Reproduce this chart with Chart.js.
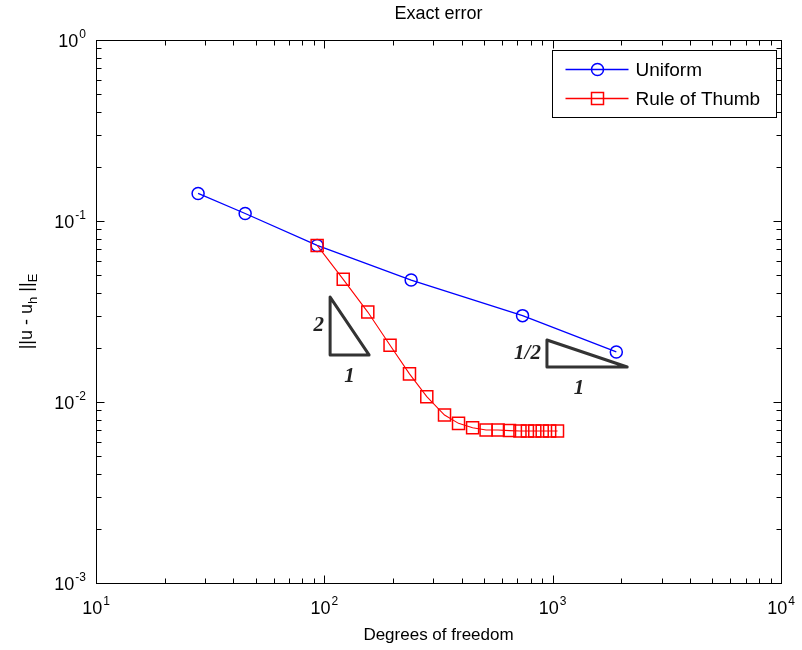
<!DOCTYPE html>
<html>
<head>
<meta charset="utf-8">
<title>Exact error</title>
<script src="https://cdn.jsdelivr.net/npm/chart.js@4/dist/chart.umd.min.js"></script>
<style>
  body { margin: 0; background: #fff; }
  canvas { display: block; }
</style>
</head>
<body>
<canvas id="errChart" width="802" height="650"></canvas>
<script>
// Energy-norm error against degrees of freedom
const uniformDofs = [28, 45, 93, 240, 738, 1900];
const uniformErr = [0.142, 0.110, 0.0733, 0.0472, 0.0300, 0.0189];

const thumbDofs = [93, 121, 155, 194, 236, 281, 336, 387, 446, 511, 577, 647, 719, 775, 835, 900, 970, 1050];
const thumbErr = [0.0733, 0.0476, 0.0314, 0.0206, 0.0143, 0.0107, 0.00847, 0.00762, 0.00721, 0.00700,
                  0.00700, 0.00695, 0.00692, 0.00692, 0.00692, 0.00692, 0.00692, 0.00692];

// decade exponents for the log axes
const xExps = [1, 2, 3, 4];
const yExps = [0, -1, -2, -3];

// slope triangles: x range, y range (data units) and the two side labels
const slopeTriangles = [
    { x0: 106, x1: 157, yLow: 0.0182, yHigh: 0.038, rise: '2', run: '1', runAt: 0.5 },
    { x0: 944, x1: 2120, yLow: 0.0156, yHigh: 0.022, rise: '1/2', run: '1', runAt: 0.4 }
];

const FONT = '"Liberation Sans", Arial, sans-serif';

function toPoints(xs, ys) {
    return xs.map((x, i) => ({ x: x, y: ys[i] }));
}

function drawPower(ctx, exp, x, y, align) {
    ctx.font = '18px ' + FONT;
    const wBase = ctx.measureText('10').width;
    ctx.font = '12px ' + FONT;
    const sup = String(exp);
    const wSup = ctx.measureText(sup).width;
    const total = wBase + wSup + 1;
    const start = align === 'center' ? x - total / 2 : x - total;
    ctx.textAlign = 'left';
    ctx.textBaseline = 'alphabetic';
    ctx.font = '18px ' + FONT;
    ctx.fillText('10', start, y);
    ctx.font = '12px ' + FONT;
    ctx.fillText(sup, start + wBase + 1, y - 9);
}

const axesPlugin = {
    id: 'matlabAxes',
    afterDraw(chart) {
        const ctx = chart.ctx;
        const area = chart.chartArea;
        const xs = chart.scales.x;
        const ys = chart.scales.y;
        ctx.save();
        ctx.strokeStyle = '#000';
        ctx.fillStyle = '#000';
        ctx.lineWidth = 1;

        // box
        const L = Math.round(area.left) + 0.5, R = Math.round(area.right) + 0.5;
        const T = Math.round(area.top) + 0.5, B = Math.round(area.bottom) + 0.5;
        ctx.strokeRect(L, T, R - L, B - T);

        // inward ticks on all four sides
        ctx.beginPath();
        for (let e = xExps[0]; e < xExps[xExps.length - 1] + 1; e++) {
            for (let m = 1; m <= 9; m++) {
                const v = m * Math.pow(10, e);
                if (v > xs.max * 1.0001) continue;
                const px = Math.round(xs.getPixelForValue(v)) + 0.5;
                const len = m === 1 ? 8 : 5;
                ctx.moveTo(px, B); ctx.lineTo(px, B - len);
                ctx.moveTo(px, T); ctx.lineTo(px, T + len);
            }
        }
        for (let e = yExps[yExps.length - 1]; e <= yExps[0]; e++) {
            for (let m = 1; m <= 9; m++) {
                const v = m * Math.pow(10, e);
                if (v > ys.max * 1.0001) continue;
                const py = Math.round(ys.getPixelForValue(v)) + 0.5;
                const len = m === 1 ? 8 : 5;
                ctx.moveTo(L, py); ctx.lineTo(L + len, py);
                ctx.moveTo(R, py); ctx.lineTo(R - len, py);
            }
        }
        ctx.stroke();

        // tick labels
        xExps.forEach(e => drawPower(ctx, e, xs.getPixelForValue(Math.pow(10, e)), area.bottom + 31, 'center'));
        yExps.forEach(e => drawPower(ctx, e, area.left - 10, ys.getPixelForValue(Math.pow(10, e)) + 7, 'right'));

        // title and x label
        const cx = (area.left + area.right) / 2;
        ctx.font = '18px ' + FONT;
        ctx.textAlign = 'center';
        ctx.textBaseline = 'middle';
        ctx.fillText('Exact error', cx, 14);
        ctx.font = '17px ' + FONT;
        ctx.fillText('Degrees of freedom', cx, area.bottom + 52);

        // y label with subscripts, rotated
        const parts = [['||u - u', false], ['h', true], [' ||', false], ['E', true]];
        let total = 0;
        parts.forEach(p => {
            ctx.font = (p[1] ? '13px ' : '18px ') + FONT;
            total += ctx.measureText(p[0]).width;
        });
        ctx.translate(32, (area.top + area.bottom) / 2);
        ctx.rotate(-Math.PI / 2);
        ctx.textAlign = 'left';
        ctx.textBaseline = 'alphabetic';
        let pos = -total / 2;
        parts.forEach(p => {
            ctx.font = (p[1] ? '13px ' : '18px ') + FONT;
            ctx.fillText(p[0], pos, p[1] ? 5 : 0);
            pos += ctx.measureText(p[0]).width;
        });
        ctx.restore();

        // slope triangles
        ctx.save();
        ctx.strokeStyle = '#333';
        ctx.fillStyle = '#222';
        ctx.lineWidth = 3;
        ctx.lineJoin = 'round';
        slopeTriangles.forEach(t => {
            const x0 = xs.getPixelForValue(t.x0), x1 = xs.getPixelForValue(t.x1);
            const yl = ys.getPixelForValue(t.yLow), yh = ys.getPixelForValue(t.yHigh);
            ctx.beginPath();
            ctx.moveTo(x0, yh);
            ctx.lineTo(x0, yl);
            ctx.lineTo(x1, yl);
            ctx.closePath();
            ctx.stroke();
            ctx.font = 'italic bold 21px "Liberation Serif", serif';
            ctx.textBaseline = 'middle';
            ctx.textAlign = 'right';
            ctx.fillText(t.rise, x0 - 6, (yl + yh) / 2);
            ctx.textAlign = 'center';
            ctx.fillText(t.run, x0 + (x1 - x0) * t.runAt, yl + 22);
        });
        ctx.restore();

        // legend
        ctx.save();
        const bx = Math.round(area.right) - 228.5, by = Math.round(area.top) + 10.5;
        ctx.fillStyle = '#fff';
        ctx.fillRect(bx, by, 224, 67);
        ctx.strokeStyle = '#000';
        ctx.lineWidth = 1;
        ctx.strokeRect(bx, by, 224, 67);
        chart.data.datasets.forEach((ds, i) => {
            const ry = by + 19 + i * 29;
            ctx.strokeStyle = ds.borderColor;
            ctx.lineWidth = 1.3;
            ctx.beginPath();
            ctx.moveTo(bx + 13, ry);
            ctx.lineTo(bx + 76, ry);
            ctx.stroke();
            ctx.lineWidth = 1.5;
            const mx = bx + 45;
            ctx.beginPath();
            if (ds.pointStyle === 'circle') {
                ctx.arc(mx, ry, 6, 0, Math.PI * 2);
            } else {
                ctx.rect(mx - 6, ry - 6, 12, 12);
            }
            ctx.stroke();
            ctx.fillStyle = '#000';
            ctx.font = '19px ' + FONT;
            ctx.textAlign = 'left';
            ctx.textBaseline = 'middle';
            ctx.fillText(ds.label, bx + 83, ry + 1);
        });
        ctx.restore();
    }
};

new Chart(document.getElementById('errChart'), {
    type: 'line',
    data: {
        datasets: [
            {
                label: 'Uniform',
                data: toPoints(uniformDofs, uniformErr),
                borderColor: '#0000ff',
                borderWidth: 1.3,
                pointStyle: 'circle',
                pointRadius: 6,
                pointBorderWidth: 1.5,
                pointBorderColor: '#0000ff',
                pointBackgroundColor: 'rgba(0,0,0,0)',
                tension: 0,
                order: 1
            },
            {
                label: 'Rule of Thumb',
                data: toPoints(thumbDofs, thumbErr),
                borderColor: '#ff0000',
                borderWidth: 1.1,
                pointStyle: 'rect',
                pointRadius: 8.5,
                pointBorderWidth: 1.5,
                pointBorderColor: '#ff0000',
                pointBackgroundColor: 'rgba(0,0,0,0)',
                tension: 0,
                order: 0
            }
        ]
    },
    options: {
        responsive: false,
        animation: false,
        devicePixelRatio: 1,
        layout: { padding: { left: 96, top: 40, right: 21, bottom: 67 } },
        plugins: {
            legend: { display: false },
            title: { display: false },
            tooltip: { enabled: false }
        },
        scales: {
            x: { type: 'logarithmic', min: 10, max: 10000, display: false },
            y: { type: 'logarithmic', min: 0.001, max: 1, display: false }
        }
    },
    plugins: [axesPlugin]
});
</script>
</body>
</html>
